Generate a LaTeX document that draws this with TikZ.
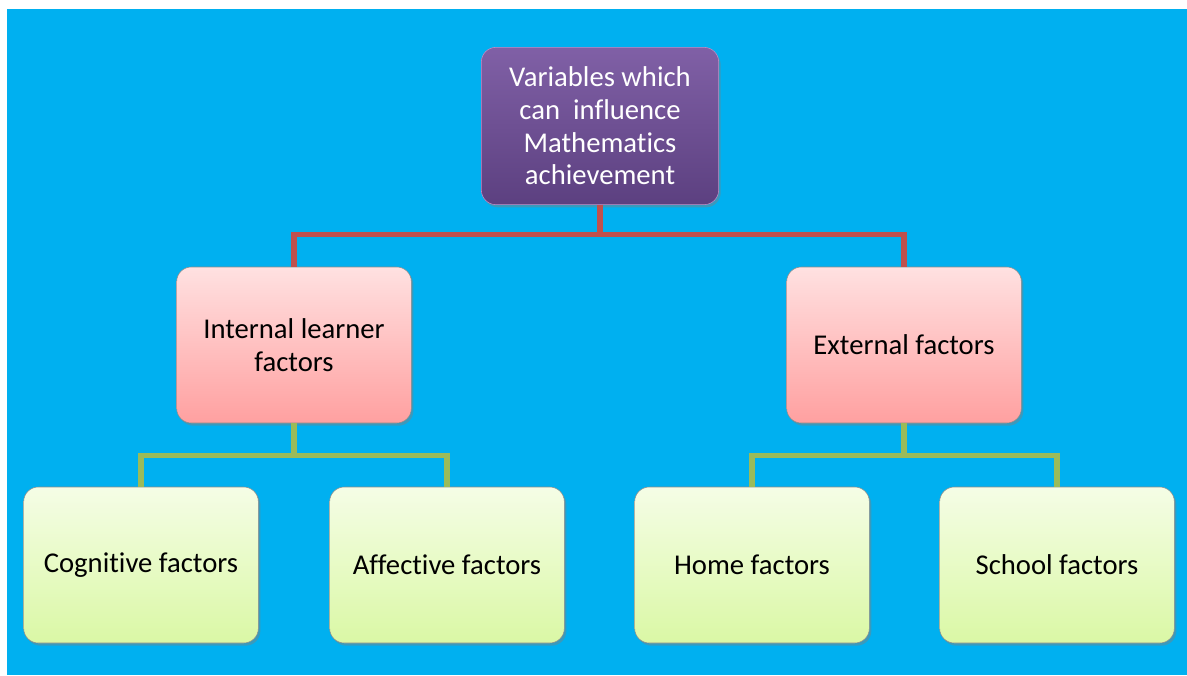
\documentclass[tikz,border=0pt]{standalone}
\usepackage{fontspec}
\setmainfont[Ligatures=NoCommon]{Carlito}
\usetikzlibrary{shadows}
\definecolor{skyblue}{HTML}{00B0F0}
\definecolor{linered}{HTML}{C0504D}
\definecolor{linegreen}{HTML}{9BBB59}
\tikzstyle{box} = [rectangle, rounded corners=11pt, minimum width=176pt, minimum height=117pt, align=center, font=\fontsize{21.5}{24.5}\selectfont, drop shadow={shadow xshift=1.5pt, shadow yshift=-2pt, opacity=0.45}]
\tikzstyle{topbox} = [box, minimum width=178pt, minimum height=118pt, draw=violet!45, top color={rgb,255:red,128;green,96;blue,166}, bottom color={rgb,255:red,92;green,64;blue,128}, text=white]
\tikzstyle{midbox} = [box, draw=black!45, top color={rgb,255:red,255;green,225;blue,225}, bottom color={rgb,255:red,255;green,160;blue,160}]
\tikzstyle{lowbox} = [box, draw=black!45, top color={rgb,255:red,245;green,253;blue,230}, bottom color={rgb,255:red,218;green,248;blue,165}]
\tikzstyle{redline} = [draw=linered, line width=3.8pt]
\tikzstyle{greenline} = [draw=linegreen, line width=3.8pt]

\begin{document}
\begin{tikzpicture}[x=0.75pt, y=-0.75pt]
		\useasboundingbox (0,0) rectangle (1187,675);
		\fill [skyblue] (7,9) rectangle (1187,675);
		% boxes
		\node (vars) [topbox] at (600,126) {Variables which\\can\ \ influence\\Mathematics\\achievement};
		\node (internal) [midbox] at (294,345) {Internal learner\\factors};
		\node (external) [midbox] at (904,345) {External factors};
		\node (cognitive) [lowbox] at (141,565) {Cognitive factors};
		\node (affective) [lowbox] at (447,565) {Affective factors};
		\node (home) [lowbox] at (752,565) {Home factors};
		\node (school) [lowbox] at (1057,565) {School factors};
		% connectors
		\draw [redline] (vars.south) -- ++(0,30) -| (internal.north);
		\draw [redline] (vars.south) -- ++(0,30) -| (external.north);
		\draw [greenline] (internal.south) -- ++(0,32) -| (cognitive.north);
		\draw [greenline] (internal.south) -- ++(0,32) -| (affective.north);
		\draw [greenline] (external.south) -- ++(0,32) -| (home.north);
		\draw [greenline] (external.south) -- ++(0,32) -| (school.north);
\end{tikzpicture}
\end{document}
